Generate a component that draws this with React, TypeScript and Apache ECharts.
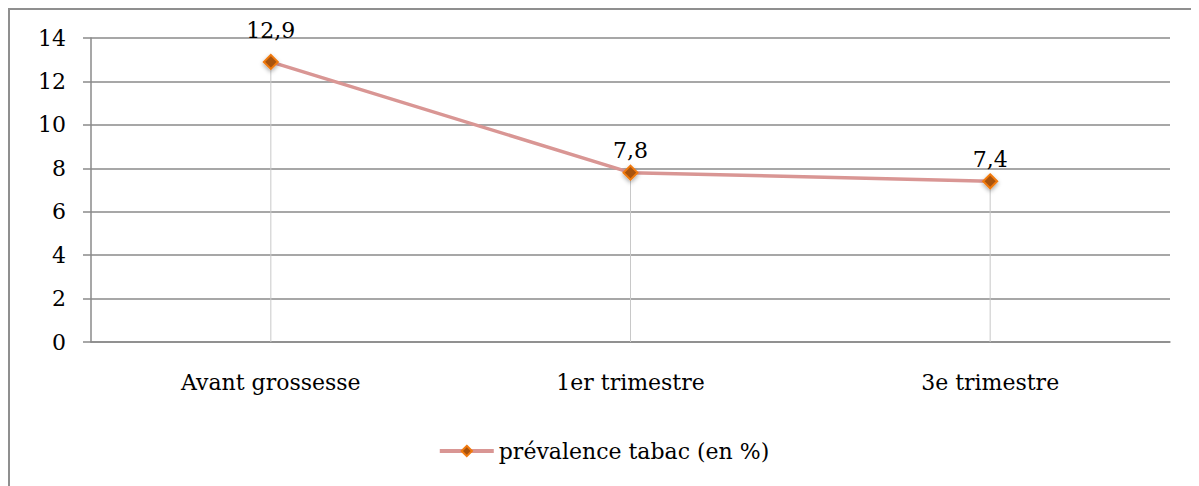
import React, { useEffect, useRef } from "react";
import * as echarts from "echarts";

const categories = ["Avant grossesse", "1er trimestre", "3e trimestre"];
const prevalence = [12.9, 7.8, 7.4];
const seriesName = "prévalence tabac (en %)";
const yTicks = { min: 0, max: 14, interval: 2 };

const FONT = "DejaVu Serif";
const FS = 22;

export default function App() {
  const ref = useRef<HTMLDivElement>(null);
  useEffect(() => {
    if (!ref.current) return;
    const chart = echarts.init(ref.current, undefined, { renderer: "svg" });
    chart.setOption({
      animation: false,
      textStyle: { fontFamily: FONT },
      graphic: [
        {
          type: "rect",
          shape: { x: 1, y: 1, width: 1188, height: 520 },
          style: { fill: "none", stroke: "#8f8f8f", lineWidth: 2 },
          silent: true,
        },
      ],
      grid: { left: 83, top: 30, right: 29, bottom: 144 },
      legend: {
        data: [seriesName],
        bottom: 19,
        left: "center",
        itemWidth: 54,
        itemHeight: 13,
        itemGap: 10,
        lineStyle: { width: 4, color: "#d99694" },
        textStyle: { fontFamily: FONT, fontSize: FS, color: "#000" },
      },
      xAxis: {
        type: "category",
        data: categories,
        boundaryGap: true,
        axisLine: { lineStyle: { color: "#8a8a8a", width: 1.5 } },
        axisTick: { show: false },
        axisLabel: { color: "#000", fontSize: FS, fontFamily: FONT, margin: 29 },
      },
      yAxis: {
        type: "value",
        min: yTicks.min,
        max: yTicks.max,
        interval: yTicks.interval,
        axisLine: { show: true, lineStyle: { color: "#8a8a8a", width: 1.5 } },
        axisTick: { show: true, length: 8, lineStyle: { color: "#8a8a8a", width: 1.5 } },
        axisLabel: { color: "#000", fontSize: FS, fontFamily: FONT, margin: 25 },
        splitLine: { lineStyle: { color: "#8a8a8a", width: 1.5 } },
      },
      series: [
        {
          name: "drop",
          type: "bar",
          data: prevalence,
          barWidth: 1,
          itemStyle: { color: "#c8c8c8" },
          silent: true,
          z: 1,
        },
        {
          name: seriesName,
          type: "line",
          data: prevalence.map((v, i) => ({
            value: v,
            label: i === 0 ? { distance: 12 } : undefined,
          })),
          symbol: "diamond",
          symbolSize: 14,
          lineStyle: { color: "#d99694", width: 3.5 },
          itemStyle: {
            color: "#a8520c",
            borderColor: "#f07a10",
            borderWidth: 2,
            shadowColor: "rgba(0,0,0,0.35)",
            shadowBlur: 4,
            shadowOffsetY: 2,
          },
          label: {
            show: true,
            position: "top",
            distance: 3,
            color: "#000",
            fontSize: FS,
            fontFamily: FONT,
            formatter: (p: any) => String(p.value).replace(".", ","),
          },
          z: 3,
        },
      ],
    });
    return () => chart.dispose();
  }, []);
  return <div ref={ref} style={{ width: 1191, height: 478 }} />;
}
